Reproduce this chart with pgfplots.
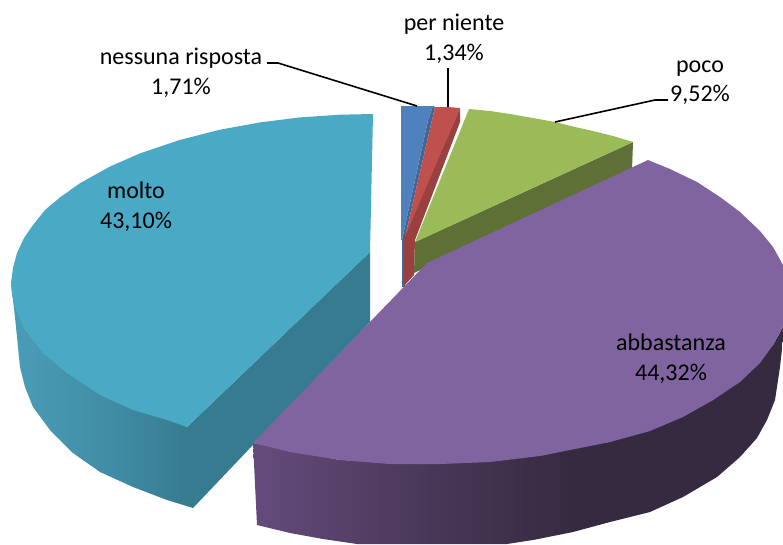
\documentclass[border=0pt]{standalone}
\usepackage{pgfplots}
\pgfplotsset{compat=1.18}
\usepackage{fontspec}
\setmainfont{Carlito}
\definecolor{cblue}{HTML}{4F81BD}
\definecolor{cbluedk}{HTML}{3F6797}
\definecolor{cred}{HTML}{C0504D}
\definecolor{creddk}{HTML}{9A403E}
\definecolor{cgreen}{HTML}{9BBB59}
\definecolor{cgreendk}{HTML}{5F7036}
\definecolor{cpurple}{HTML}{8064A0}
\definecolor{ccyan}{HTML}{4AA9C4}
\definecolor{cyanA}{HTML}{4A9DB7}
\definecolor{cyanB}{HTML}{3F8BA3}
\definecolor{cyanC}{HTML}{367B8F}
\definecolor{purpA}{HTML}{644B7C}
\definecolor{purpB}{HTML}{4D3A5D}
\definecolor{purpC}{HTML}{362A40}
\pgfdeclarehorizontalshading{cyanside}{100bp}{color(0bp)=(cyanA); color(25bp)=(cyanA); color(40bp)=(cyanB); color(50bp)=(cyanC); color(100bp)=(cyanC)}
\pgfdeclarehorizontalshading{purpleside}{100bp}{color(0bp)=(purpA); color(25bp)=(purpA); color(39bp)=(purpB); color(55bp)=(purpC); color(100bp)=(purpC)}
\tikzset{lbl/.style={font=\fontsize{24}{24}\selectfont, inner sep=0pt, anchor=base, text=black}}
\begin{document}
\begin{tikzpicture}
\begin{axis}[
    scale only axis,
    width=783pt, height=544pt,
    xmin=0, xmax=783, ymin=0, ymax=544,
    y dir=reverse,
    hide axis,
]
% slices drawn back to front, coordinates in image pixels
% blue
\addplot[draw=none, fill=cbluedk] coordinates {(433,106) (428,120) (402,240) (402,287) (405,287) (405,237) (435,107)} --cycle;
\addplot[draw=none, fill=cblue] coordinates {(401,106) (433,106) (428,120) (402,240) (401,240)} --cycle;
% red
\addplot[draw=none, fill=creddk] coordinates {(460,108) (460,122) (415,240) (414,275) (404,286) (404,237)} --cycle;
\addplot[draw=none, fill=cred] coordinates {(435,107) (448,107) (460,108) (405,237)} --cycle;
% green
\addplot[draw=none, fill=cgreendk] coordinates {(633,142) (632,170) (414,273) (415,242)} --cycle;
\addplot[draw=none, fill=cgreen] coordinates {(469,109) (490,111) (510,114) (533,118) (555,122) (575,127) (593,131) (613,136) (633,142) (415,242)} --cycle;
% cyan
\addplot[draw=none, shading=cyanside] coordinates {(11,283) (15,317) (20,367) (25,387) (33,407) (50,430) (73,453) (100,472) (133,487) (167,500) (193,508) (370,322) (370,252) (187,427) (67,373) (25,330)} --cycle;
\addplot[draw=none, fill=ccyan] coordinates {(373,114) (340,114.7) (300,117.4) (260,122.4) (220,129.7) (180,139.9) (140,153.4) (110,166.5) (80,183.2) (60,197.4) (45,210) (33,225) (24,238) (17,253) (13,268) (11,283) (12,295) (15,307) (25,330) (43,353) (67,373) (100,395) (133,410) (167,420) (187,427) (370,252)} --cycle;
% purple
\addplot[draw=none, shading=purpleside] coordinates {(253,443) (257,525) (290,533) (323,539) (357,544) (507,544) (533,540) (573,532) (610,522) (650,512) (683,497) (717,477) (740,457) (757,438) (767,420) (775,400) (780,367) (783,340) (783,327) (773,345) (713,400) (610,442) (440,464) (340,460)} --cycle;
\addplot[draw=none, fill=cpurple] coordinates {(427,263) (648,160) (670,169) (697,182) (720,197) (740,212) (760,231) (773,247) (783,265) (783,327) (773,345) (760,363) (740,382) (713,400) (683,417) (650,431) (610,442) (540,456) (490,462) (440,464) (390,464) (340,460) (290,452) (253,443)} --cycle;
% leader lines
\addplot[black, line width=1.6pt] coordinates {(267,63) (278,63) (417,106)};
\addplot[black, line width=1.6pt] coordinates {(448,68) (448,107)};
\addplot[black, line width=1.6pt] coordinates {(555,122) (655,100) (668,100)};
% labels
\node[lbl] at (axis cs:181,64) {nessuna risposta};
\node[lbl] at (axis cs:181,94) {1,71\%};
\node[lbl] at (axis cs:454,30) {per niente};
\node[lbl] at (axis cs:454,60) {1,34\%};
\node[lbl] at (axis cs:700,72) {poco};
\node[lbl] at (axis cs:700,101) {9,52\%};
\node[lbl] at (axis cs:136,198) {molto};
\node[lbl] at (axis cs:136,228) {43,10\%};
\node[lbl] at (axis cs:671,350) {abbastanza};
\node[lbl] at (axis cs:671,380) {44,32\%};
\end{axis}
\path (current axis.south west) rectangle (current axis.north east);
\end{tikzpicture}
\end{document}
